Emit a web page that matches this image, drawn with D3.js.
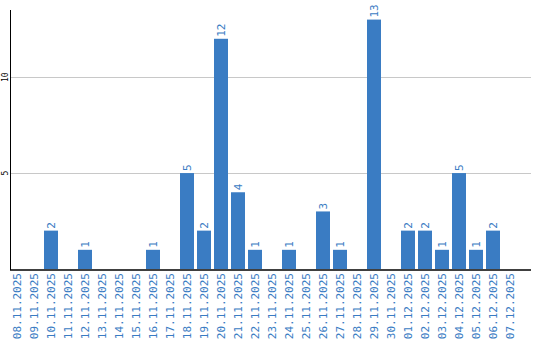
<!DOCTYPE html>
<html><head><meta charset="utf-8">
<script src="https://cdn.jsdelivr.net/npm/d3@7"></script>
<style>body{margin:0;background:#fff}svg{display:block}</style>
</head><body>
<script>
const categories = ["08.11.2025","09.11.2025","10.11.2025","11.11.2025","12.11.2025","13.11.2025","14.11.2025","15.11.2025","16.11.2025","17.11.2025","18.11.2025","19.11.2025","20.11.2025","21.11.2025","22.11.2025","23.11.2025","24.11.2025","25.11.2025","26.11.2025","27.11.2025","28.11.2025","29.11.2025","30.11.2025","01.12.2025","02.12.2025","03.12.2025","04.12.2025","05.12.2025","06.12.2025","07.12.2025"];
const values = [0,0,2,0,1,0,0,0,1,0,5,2,12,4,1,0,1,0,3,1,0,13,0,2,2,1,5,1,2,0];
const yTicks = [5,10];

(function(){
const W=540,H=340, mLeft=10, mBottom=269, mTop=10, mRight=531;
const color="#3a7cc3";
const svg=d3.select("body").append("svg").attr("width",W).attr("height",H);
const x=d3.scaleBand().domain(categories).range([mLeft,mLeft+30*17]).paddingInner(3/17).paddingOuter(3/34).align(0);
const y=d3.scaleLinear().domain([0,13.5]).range([mBottom,mTop]);

svg.append("g").selectAll("line").data(yTicks).join("line")
  .attr("x1",mLeft).attr("x2",mRight).attr("y1",d=>Math.round(y(d))+0.5).attr("y2",d=>Math.round(y(d))+0.5)
  .attr("stroke","#c8c8c8").attr("stroke-width",1);

svg.append("g").selectAll("text").data(yTicks).join("text")
  .attr("transform",d=>`translate(7.5,${y(d)}) rotate(-90)`)
  .attr("text-anchor","middle").attr("font-family","DejaVu Sans Mono").attr("font-size",8).attr("fill","#000")
  .text(d=>d);

svg.append("g").selectAll("rect").data(values).join("rect")
  .attr("x",(d,i)=>x(categories[i])).attr("width",x.bandwidth())
  .attr("y",d=>y(d)).attr("height",d=>mBottom-y(d)).attr("fill",color);

svg.append("g").selectAll("text").data(values.map((v,i)=>({v,c:categories[i]})).filter(d=>d.v>0)).join("text")
  .attr("transform",d=>`translate(${x(d.c)+x.bandwidth()/2+4},${y(d.v)-2}) rotate(-90)`)
  .attr("text-anchor","start").attr("font-family","DejaVu Sans Mono").attr("font-size",11).attr("fill",color)
  .text(d=>d.v);

svg.append("line").attr("x1",mLeft+0.5).attr("x2",mLeft+0.5).attr("y1",mTop).attr("y2",mBottom+1).attr("stroke","#000").attr("stroke-width",1);
svg.append("line").attr("x1",mLeft).attr("x2",mRight).attr("y1",mBottom+1).attr("y2",mBottom+1).attr("stroke","#000").attr("stroke-width",1.5);

svg.append("g").selectAll("text").data(categories).join("text")
  .attr("transform",d=>`translate(${x(d)+x.bandwidth()/2+4},273) rotate(-90)`)
  .attr("text-anchor","end").attr("font-family","DejaVu Sans Mono").attr("font-size",11).attr("fill",color)
  .text(d=>d);
})();
</script>
</body></html>
